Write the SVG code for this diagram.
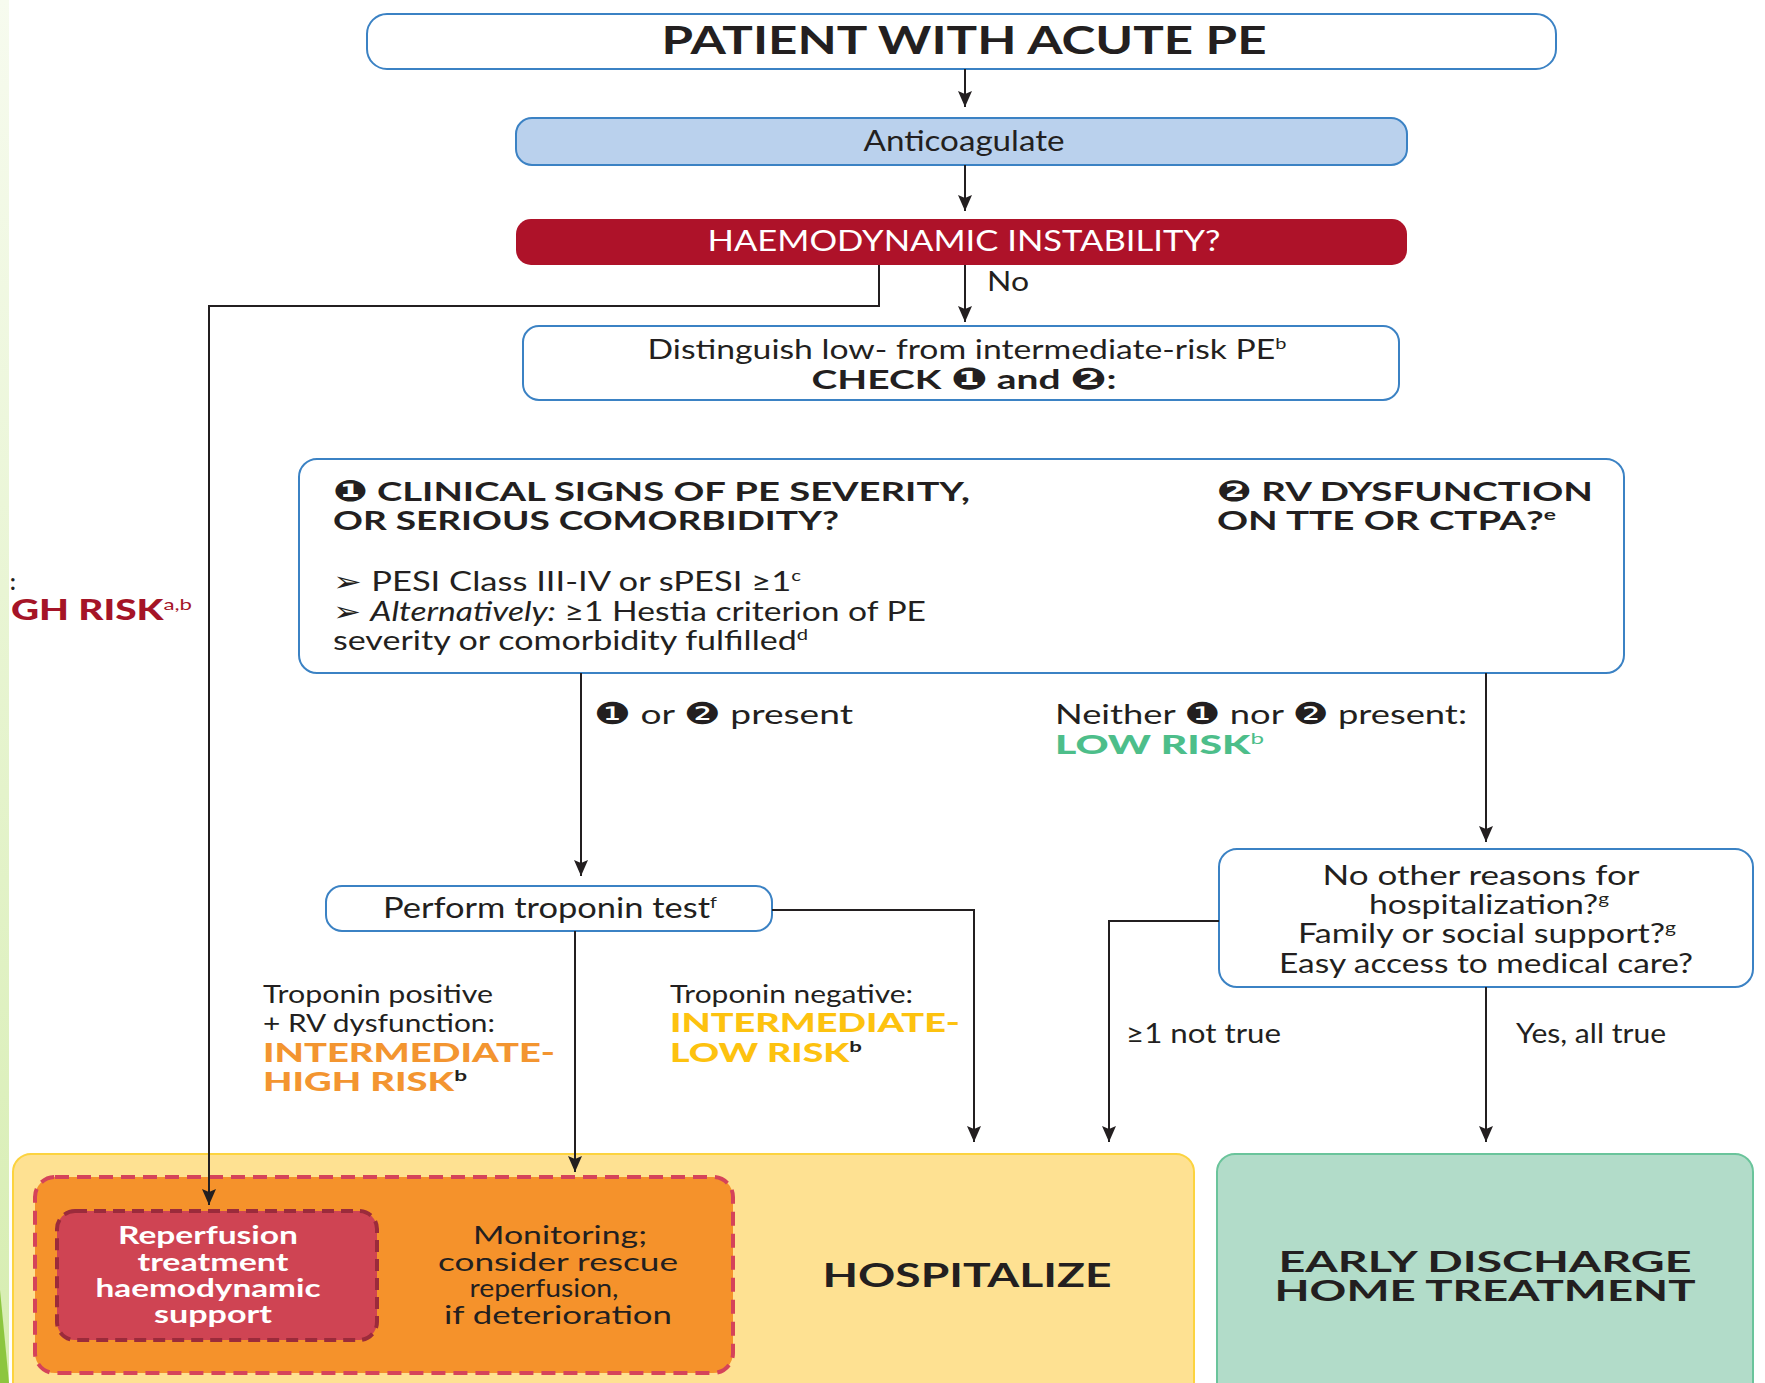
<svg xmlns="http://www.w3.org/2000/svg" width="1765" height="1383" viewBox="0 0 1765 1383">
<defs>
<linearGradient id="strip" x1="0" y1="0" x2="0" y2="1">
<stop offset="0" stop-color="#f7fbef"/>
<stop offset="1" stop-color="#d6edb0"/>
</linearGradient>
<marker id="arr" viewBox="0 0 14 16" refX="16" refY="7" markerWidth="14" markerHeight="16" markerUnits="userSpaceOnUse" orient="auto">
<path d="M0,0 L16,7 L0,14 L3,7 z" fill="#231f20"/>
</marker>
<style>
text { font-family: Lato, "Liberation Sans", sans-serif; fill: #231f20; font-size: 26px; }
.b { font-weight: 700; }
.k { font-weight: 900; }
.m { text-anchor: middle; }
.cn { font-family: "DejaVu Sans", sans-serif; font-size: 30px; }
.sup { font-size: 16px; }
.box { fill: #ffffff; stroke: #3b82c4; stroke-width: 2; }
.conn { fill: none; stroke: #231f20; stroke-width: 2; marker-end: url(#arr); }
</style>
</defs>
<rect width="1765" height="1383" fill="#ffffff"/>
<rect x="0" y="0" width="9" height="1383" fill="url(#strip)"/>
<polygon points="0,1290 9,1383 0,1383" fill="#8cc63f"/>

<g id="patient">
<rect class="box" x="367" y="14" width="1189" height="55" rx="20"/>
<text class="m b" x="964" y="54" style="font-size:38px" textLength="605" lengthAdjust="spacingAndGlyphs">PATIENT WITH ACUTE PE</text>
</g>

<g id="anticoagulate">
<rect x="516" y="118" width="891" height="47" rx="16" fill="#bad1ed" stroke="#3b82c4" stroke-width="2"/>
<text class="m" x="964" y="151" style="font-size:28px" textLength="201" lengthAdjust="spacingAndGlyphs">Anticoagulate</text>
</g>

<g id="instability">
<rect x="516" y="219" width="891" height="46" rx="15" fill="#ae1229"/>
<text class="m" x="964" y="251" style="fill:#ffffff;font-size:28px" textLength="513" lengthAdjust="spacingAndGlyphs">HAEMODYNAMIC INSTABILITY?</text>
</g>

<g id="distinguish">
<rect class="box" x="523" y="326" width="876" height="74" rx="16"/>
<text class="m" x="967" y="359" style="font-size:27px" textLength="639" lengthAdjust="spacingAndGlyphs">Distinguish low- from intermediate-risk PE<tspan class="sup" dy="-10">b</tspan></text>
<text class="m b" x="964" y="389" style="font-size:27px" textLength="305" lengthAdjust="spacingAndGlyphs">CHECK <tspan class="cn">❶</tspan> and <tspan class="cn">❷</tspan>:</text>
</g>

<g id="criteria">
<rect class="box" x="299" y="459" width="1325" height="214" rx="18"/>
<text class="b" x="333" y="501" style="font-size:27px" textLength="637" lengthAdjust="spacingAndGlyphs"><tspan class="cn" style="font-size:29px">❶</tspan> CLINICAL SIGNS OF PE SEVERITY,</text>
<text class="b" x="333" y="530" style="font-size:27px" textLength="506" lengthAdjust="spacingAndGlyphs">OR SERIOUS COMORBIDITY?</text>
<text class="b" x="1217" y="501" style="font-size:27px" textLength="376" lengthAdjust="spacingAndGlyphs"><tspan class="cn" style="font-size:29px">❷</tspan> RV DYSFUNCTION</text>
<text class="b" x="1217" y="530" style="font-size:27px" textLength="339" lengthAdjust="spacingAndGlyphs">ON TTE OR CTPA?<tspan class="sup" dy="-10">e</tspan></text>
<text x="333" y="591" style="font-size:27px" textLength="468" lengthAdjust="spacingAndGlyphs">➢ PESI Class III-IV or sPESI ≥1<tspan class="sup" dy="-10">c</tspan></text>
<text x="333" y="621" style="font-size:27px" textLength="593" lengthAdjust="spacingAndGlyphs">➢ <tspan font-style="italic">Alternatively:</tspan> ≥1 Hestia criterion of PE</text>
<text x="333" y="650" style="font-size:27px" textLength="475" lengthAdjust="spacingAndGlyphs">severity or comorbidity fulfilled<tspan class="sup" dy="-10">d</tspan></text>
</g>

<g id="troponin">
<rect class="box" x="326" y="886" width="446" height="45" rx="16"/>
<text class="m" x="550" y="918" style="font-size:28px" textLength="334" lengthAdjust="spacingAndGlyphs">Perform troponin test<tspan class="sup" dy="-10">f</tspan></text>
</g>

<g id="reasons">
<rect class="box" x="1219" y="849" width="534" height="138" rx="18"/>
<text class="m" x="1481" y="885" textLength="317" lengthAdjust="spacingAndGlyphs">No other reasons for</text>
<text class="m" x="1489" y="914" textLength="240" lengthAdjust="spacingAndGlyphs">hospitalization?<tspan class="sup" dy="-10">g</tspan></text>
<text class="m" x="1487" y="943" textLength="378" lengthAdjust="spacingAndGlyphs">Family or social support?<tspan class="sup" dy="-10">g</tspan></text>
<text class="m" x="1486" y="973" textLength="414" lengthAdjust="spacingAndGlyphs">Easy access to medical care?</text>
</g>

<g id="hospitalize">
<rect x="13" y="1154" width="1181" height="260" rx="18" fill="#fee192" stroke="#fcd33f" stroke-width="2"/>
<text class="m b" x="967" y="1287" style="font-size:32px" textLength="289" lengthAdjust="spacingAndGlyphs">HOSPITALIZE</text>
</g>

<g id="monitoring">
<rect x="35" y="1177" width="698" height="196" rx="20" fill="#f5922b" stroke="#d5435a" stroke-width="4" stroke-dasharray="14 8"/>
<text class="m" x="560" y="1244" style="font-size:25px" textLength="174" lengthAdjust="spacingAndGlyphs">Monitoring;</text>
<text class="m" x="558" y="1271" style="font-size:25px" textLength="240" lengthAdjust="spacingAndGlyphs">consider rescue</text>
<text class="m" x="544" y="1297" style="font-size:25px" textLength="149" lengthAdjust="spacingAndGlyphs">reperfusion,</text>
<text class="m" x="558" y="1324" style="font-size:25px" textLength="228" lengthAdjust="spacingAndGlyphs">if deterioration</text>
</g>

<g id="reperfusion">
<rect x="57" y="1211" width="320" height="129" rx="18" fill="#cf4453" stroke="#9b2b3b" stroke-width="4" stroke-dasharray="12 7"/>
<text class="m b" x="208" y="1244" style="fill:#ffffff;font-size:25px" textLength="180" lengthAdjust="spacingAndGlyphs">Reperfusion</text>
<text class="m b" x="213" y="1271" style="fill:#ffffff;font-size:25px" textLength="151" lengthAdjust="spacingAndGlyphs">treatment</text>
<text class="m b" x="208" y="1297" style="fill:#ffffff;font-size:25px" textLength="225" lengthAdjust="spacingAndGlyphs">haemodynamic</text>
<text class="m b" x="213" y="1323" style="fill:#ffffff;font-size:25px" textLength="118" lengthAdjust="spacingAndGlyphs">support</text>
</g>

<g id="discharge">
<rect x="1217" y="1154" width="536" height="260" rx="18" fill="#b2dcc9" stroke="#6ac49b" stroke-width="2"/>
<text class="m b" x="1485" y="1272" style="font-size:28px" textLength="413" lengthAdjust="spacingAndGlyphs">EARLY DISCHARGE</text>
<text class="m b" x="1485" y="1301" style="font-size:28px" textLength="421" lengthAdjust="spacingAndGlyphs">HOME TREATMENT</text>
</g>

<g id="connectors">
<path class="conn" d="M965,69 V107"/>
<path class="conn" d="M965,165 V211"/>
<path class="conn" d="M965,265 V322"/>
<path class="conn" d="M879,265 V306 H209 V1205"/>
<path class="conn" d="M581,673 V876"/>
<path class="conn" d="M1486,673 V842"/>
<path class="conn" d="M575,931 V1172"/>
<path class="conn" d="M772,910 H974 V1142"/>
<path class="conn" d="M1219,921 H1109 V1142"/>
<path class="conn" d="M1486,987 V1142"/>
<text x="987" y="291" textLength="42" lengthAdjust="spacingAndGlyphs">No</text>
<text x="594" y="724" style="font-size:27px" textLength="259" lengthAdjust="spacingAndGlyphs"><tspan class="cn">❶</tspan> or <tspan class="cn">❷</tspan> present</text>
<text x="1055" y="724" style="font-size:27px" textLength="412" lengthAdjust="spacingAndGlyphs">Neither <tspan class="cn">❶</tspan> nor <tspan class="cn">❷</tspan> present:</text>
<text x="1055" y="754" class="k" style="fill:#4dbe8a;font-size:27px" textLength="209" lengthAdjust="spacingAndGlyphs">LOW RISK<tspan class="sup" dy="-10" style="font-weight:400">b</tspan></text>
<text x="263" y="1003" style="font-size:25px" textLength="230" lengthAdjust="spacingAndGlyphs">Troponin positive</text>
<text x="263" y="1032" style="font-size:25px" textLength="232" lengthAdjust="spacingAndGlyphs">+ RV dysfunction:</text>
<text x="263" y="1062" class="k" style="fill:#f39530;font-size:27px" textLength="292" lengthAdjust="spacingAndGlyphs">INTERMEDIATE-</text>
<text x="263" y="1091" class="k" style="fill:#f39530;font-size:27px" textLength="204" lengthAdjust="spacingAndGlyphs">HIGH RISK<tspan class="sup" dy="-10" style="font-weight:700;fill:#231f20">b</tspan></text>
<text x="670" y="1003" style="font-size:25px" textLength="243" lengthAdjust="spacingAndGlyphs">Troponin negative:</text>
<text x="670" y="1032" class="k" style="fill:#fdc20f;font-size:27px" textLength="290" lengthAdjust="spacingAndGlyphs">INTERMEDIATE-</text>
<text x="670" y="1062" class="k" style="fill:#fdc20f;font-size:27px" textLength="192" lengthAdjust="spacingAndGlyphs">LOW RISK<tspan class="sup" dy="-10" style="font-weight:700;fill:#231f20">b</tspan></text>
<text x="1126" y="1043" style="font-size:26px" textLength="155" lengthAdjust="spacingAndGlyphs">≥1 not true</text>
<text x="1516" y="1043" style="font-size:26px" textLength="150" lengthAdjust="spacingAndGlyphs">Yes, all true</text>
<text x="10" y="590" class="b" style="font-size:22px">:</text>
<text x="11" y="620" class="k" style="fill:#a51427;font-size:28px" textLength="181" lengthAdjust="spacingAndGlyphs">GH RISK<tspan class="sup" dy="-10" style="font-weight:400">a,b</tspan></text>
</g>
</svg>
